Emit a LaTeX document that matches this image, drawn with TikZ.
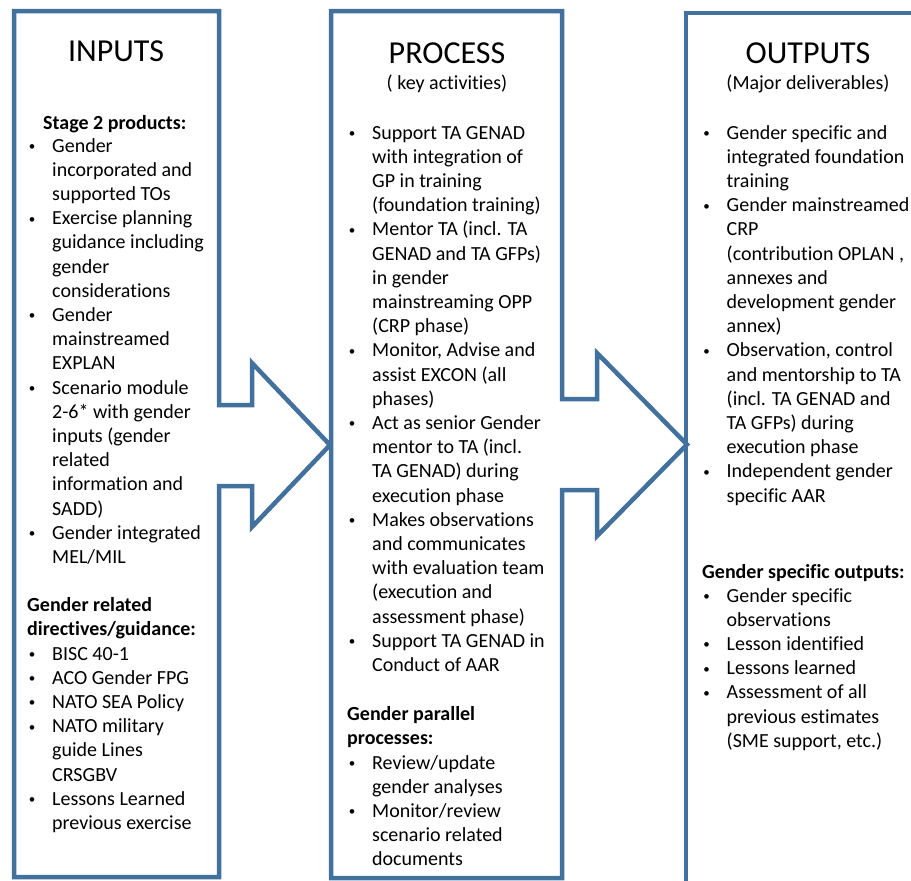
\documentclass[tikz,border=0pt]{standalone}
\usepackage{fontspec}
\setmainfont{Carlito}[Ligatures=NoCommon]
\usepackage{array}

\definecolor{framecol}{RGB}{65,113,156}
\newcommand\bodyfont{\fontsize{20}{24.2}\selectfont}
\newcommand\titlefont{\fontsize{32}{38}\selectfont}
% bullet cell: small dot at the left edge of a 21pt column
\newcommand\bu{\hspace*{1pt}\makebox[0pt]{\raisebox{1.6pt}{\fontsize{13}{13}\selectfont\textbullet}}}
\newenvironment{blist}{\begin{tabular}[t]{@{}p{21pt}@{}l@{}}}{\end{tabular}}

\begin{document}
\begin{tikzpicture}[x=1pt,y=-1pt,
  stage/.style={draw=framecol, line width=4.5pt, line join=miter},
  title/.style={font=\titlefont, anchor=base, inner sep=0pt},
  sub/.style={font=\bodyfont, anchor=base, inner sep=0pt},
  head/.style={font=\bodyfont\bfseries, anchor=base west, inner sep=0pt},
  list/.style={font=\bodyfont, anchor=base west, inner sep=0pt}]

\fill[white] (0,0) rectangle (911,881);
\useasboundingbox (0,0) rectangle (911,881);

% stage frames with their arrow heads
\draw[stage] (14,11) -- (219,11) -- (219,405) -- (252,405) -- (252,363)
  -- (330,445) -- (252,527) -- (252,486) -- (219,486) -- (219,877)
  -- (14,877) -- cycle;
\draw[stage] (331,11) -- (562,11) -- (562,399) -- (597,399) -- (597,353)
  -- (687,444.5) -- (597,536) -- (597,490) -- (562,490) -- (562,878)
  -- (331,878) -- cycle;
\draw[stage] (930,13) -- (686,13) -- (686,900);

% INPUTS
\node[title] (inTitle) at (116,61) {INPUTS};
\node[head] (inHeadA) at (43,129) {Stage 2 products:};
\node[list] (inListA) at (31,152) {\begin{blist}
\bu & Gender\\
    & incorporated and\\
    & supported TOs\\
\bu & Exercise planning\\
    & guidance including\\
    & gender\\
    & considerations\\
\bu & Gender\\
    & mainstreamed\\
    & EXPLAN\\
\bu & Scenario module\\
    & 2-6* with gender\\
    & inputs (gender\\
    & related\\
    & information and\\
    & SADD)\\
\bu & Gender integrated\\
    & MEL/MIL
\end{blist}};
\node[head] (inHeadB) at (27,611) {Gender related};
\node[head] (inHeadC) at (27,635.2) {directives/guidance:};
\node[list] (inListB) at (31,660) {\begin{blist}
\bu & BISC 40-1\\
\bu & ACO Gender FPG\\
\bu & NATO SEA Policy\\
\bu & NATO military\\
    & guide Lines\\
    & CRSGBV\\
\bu & Lessons Learned\\
    & previous exercise
\end{blist}};

% PROCESS
\node[title] (prTitle) at (447,63) {PROCESS};
\node[sub] (prSub) at (447,89) {( key activities)};
\node[list] (prListA) at (351,139) {\begin{blist}
\bu & Support TA GENAD\\
    & with integration of\\
    & GP in training\\
    & (foundation training)\\
\bu & Mentor TA (incl. TA\\
    & GENAD and TA GFPs)\\
    & in gender\\
    & mainstreaming OPP\\
    & (CRP phase)\\
\bu & Monitor, Advise and\\
    & assist EXCON (all\\
    & phases)\\
\bu & Act as senior Gender\\
    & mentor to TA (incl.\\
    & TA GENAD) during\\
    & execution phase\\
\bu & Makes observations\\
    & and communicates\\
    & with evaluation team\\
    & (execution and\\
    & assessment phase)\\
\bu & Support TA GENAD in\\
    & Conduct of AAR
\end{blist}};
\node[head] (prHeadB) at (347,720) {Gender parallel};
\node[head] (prHeadC) at (347,744.2) {processes:};
\node[list] (prListB) at (351,769) {\begin{blist}
\bu & Review/update\\
    & gender analyses\\
\bu & Monitor/review\\
    & scenario related\\
    & documents
\end{blist}};

% OUTPUTS
\node[title] (ouTitle) at (808,63) {OUTPUTS};
\node[sub] (ouSub) at (808,89) {(Major deliverables)};
\node[list] (ouListA) at (705.5,139) {\begin{blist}
\bu & Gender specific and\\
    & integrated foundation\\
    & training\\
\bu & Gender mainstreamed\\
    & CRP\\
    & (contribution OPLAN ,\\
    & annexes and\\
    & development gender\\
    & annex)\\
\bu & Observation, control\\
    & and mentorship to TA\\
    & (incl. TA GENAD and\\
    & TA GFPs) during\\
    & execution phase\\
\bu & Independent gender\\
    & specific AAR
\end{blist}};
\node[head] (ouHeadB) at (702,578) {Gender specific outputs:};
\node[list] (ouListB) at (705.5,602) {\begin{blist}
\bu & Gender specific\\
    & observations\\
\bu & Lesson identified\\
\bu & Lessons learned\\
\bu & Assessment of all\\
    & previous estimates\\
    & (SME support, etc.)
\end{blist}};
\end{tikzpicture}
\end{document}
